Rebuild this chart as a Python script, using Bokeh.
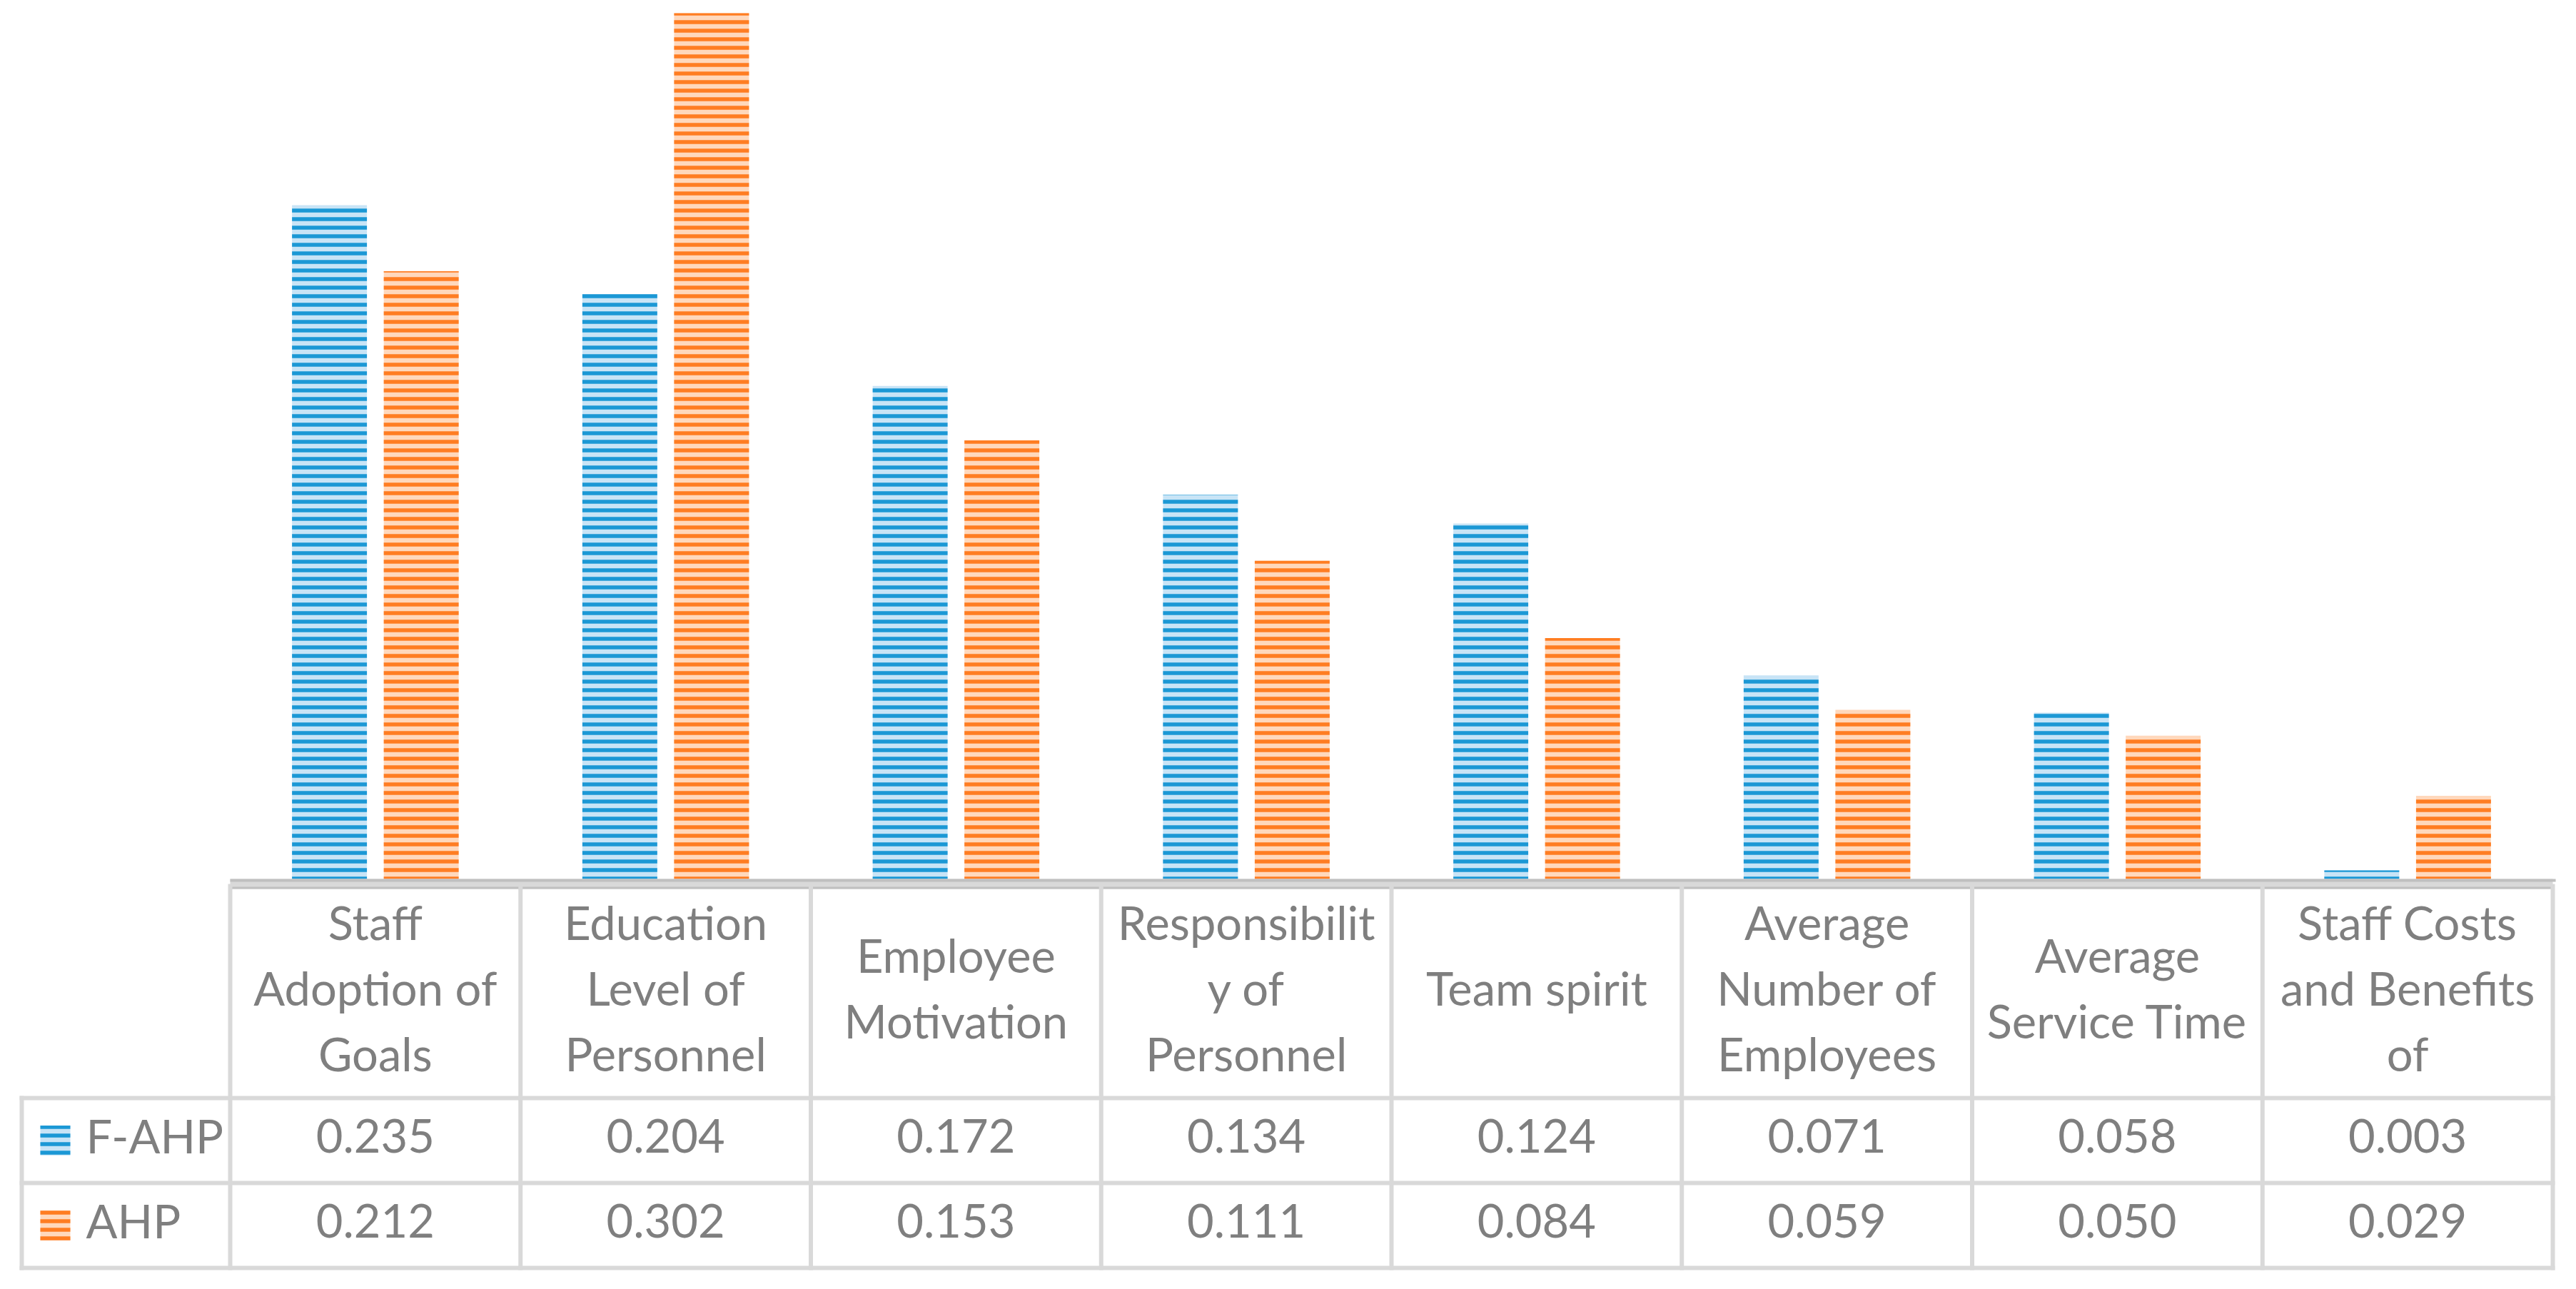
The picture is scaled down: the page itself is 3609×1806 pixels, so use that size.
from bokeh.plotting import figure
from bokeh.models import Range1d
from bokeh.core.properties import value
from bokeh.embed import file_html
from bokeh.resources import INLINE

# ---------------- data ----------------
categories = [
    "Staff Adoption of Goals",
    "Education Level of Personnel",
    "Employee Motivation",
    "Responsibility of Personnel",
    "Team spirit",
    "Average Number of Employees",
    "Average Service Time",
    "Staff Costs and Benefits of Personnel",
]
header_lines = [
    ["Staff", "Adoption of", "Goals"],
    ["Education", "Level of", "Personnel"],
    ["Employee", "Motivation"],
    ["Responsibilit", "y of", "Personnel"],
    ["Team spirit"],
    ["Average", "Number of", "Employees"],
    ["Average", "Service Time"],
    ["Staff Costs", "and Benefits", "of"],
]
series_names = ["F-AHP", "AHP"]
f_ahp = [0.235, 0.204, 0.172, 0.134, 0.124, 0.071, 0.058, 0.003]
ahp = [0.212, 0.302, 0.153, 0.111, 0.084, 0.059, 0.050, 0.029]

# ---------------- layout (pixels in picture coordinates) ----------------
PAGE_W, PAGE_H, M = 3609, 1806, 8
FIG_W, FIG_H = PAGE_W - 2 * M, PAGE_H - 2 * M
ORG = 0               # picture coordinate of the figure's top-left corner
X0 = 322.0            # left edge of category columns
COL_W = (3576.0 - 322.0) / 8
BASE_Y = 1231.0       # y of value zero
TOP_REF_Y = 18.0      # y of the tallest bar (0.302)
PX_PER_UNIT = (BASE_Y - TOP_REF_Y) / max(ahp)
HDR_TOP, HDR_BOT, ROW1_BOT, ROW2_BOT = 1238.0, 1538.0, 1657.0, 1776.0
LEG_LEFT = 30.0
LINE_H = 92.0
TXT_SHIFT = -7.0

BLUE_D, BLUE_L = "#1b98d5", "#c8e4f6"
ORNG_D, ORNG_L = "#ff7d22", "#ffd8bc"
GRID = "#d9d9d9"
AXIS = "#c0c0c0"
TXT = "#7f7f7f"
FONT = value("Lato")
FSIZE = "65px"


def ux(px):
    return (px - X0) / COL_W


y_end = (BASE_Y - ORG) / PX_PER_UNIT
y_start = -((ORG + FIG_H) - BASE_Y) / PX_PER_UNIT

p = figure(
    width=FIG_W, height=FIG_H,
    x_range=Range1d(ux(ORG), ux(ORG + FIG_W)),
    y_range=Range1d(y_start, y_end),
    output_backend="svg", toolbar_location=None,
    x_axis_location=None, y_axis_location=None,
    min_border=0, outline_line_color=None,
)
p.extra_y_ranges = {"tbl": Range1d(start=ORG + FIG_H, end=ORG)}
p.grid.visible = False
p.background_fill_color = "white"
p.border_fill_color = "white"

n = len(categories)
xs = [i + 0.5 for i in range(n)]
OFF, BW = 0.158, 0.258

# ---------------- bars ----------------
p.vbar(x=[x - OFF for x in xs], top=f_ahp, bottom=0, width=BW,
       fill_color=BLUE_L, line_color=None,
       hatch_pattern="horizontal_line", hatch_color=BLUE_D,
       hatch_weight=5.5, hatch_scale=12)
p.vbar(x=[x + OFF for x in xs], top=ahp, bottom=0, width=BW,
       fill_color=ORNG_L, line_color=None,
       hatch_pattern="horizontal_line", hatch_color=ORNG_D,
       hatch_weight=5.5, hatch_scale=12)

# ---------------- axis band / table grid ----------------
p.quad(left=[0], right=[ux(3576)], top=[1231], bottom=[1245],
       fill_color=GRID, line_color=None, y_range_name="tbl")
p.segment(x0=[0, 0], x1=[n + 0.01, n], y0=[1233, 1243.5], y1=[1233, 1243.5],
          line_color=AXIS, line_width=[4, 3], y_range_name="tbl")

hx0, hx1, hy0, hy1 = [], [], [], []
for y in (HDR_BOT, ROW1_BOT, ROW2_BOT):
    hx0.append(ux(LEG_LEFT) - 3 / COL_W)
    hx1.append(n + 3 / COL_W)
    hy0.append(y)
    hy1.append(y)
for k in range(n + 1):
    hx0.append(k)
    hx1.append(k)
    hy0.append(HDR_TOP)
    hy1.append(ROW2_BOT + 3)
hx0.append(ux(LEG_LEFT))
hx1.append(ux(LEG_LEFT))
hy0.append(HDR_BOT - 3)
hy1.append(ROW2_BOT + 3)
p.segment(x0=hx0, x1=hx1, y0=hy0, y1=hy1, line_color=GRID, line_width=6,
          y_range_name="tbl")

# ---------------- header labels and values ----------------
tx, ty, tt = [], [], []
hdr_c = (HDR_TOP + HDR_BOT) / 2 + 2 + TXT_SHIFT
for i, lines in enumerate(header_lines):
    m = len(lines)
    for j, s in enumerate(lines):
        tx.append(xs[i])
        ty.append(hdr_c + (j - (m - 1) / 2) * LINE_H)
        tt.append(s)
row_c = [(HDR_BOT + ROW1_BOT) / 2, (ROW1_BOT + ROW2_BOT) / 2]
for r, vals in enumerate([f_ahp, ahp]):
    for i, v in enumerate(vals):
        tx.append(xs[i])
        ty.append(row_c[r] + TXT_SHIFT)
        tt.append(f"{v:.3f}")
p.text(x=tx, y=ty, text=tt, y_range_name="tbl", text_align="center",
       text_baseline="middle", text_font=FONT, text_font_size=FSIZE,
       text_color=TXT)

# ---------------- legend keys ----------------
KEY = 42.0
p.rect(x=[ux(56 + KEY / 2)] * 2, y=row_c, width=KEY / COL_W, height=KEY,
       fill_color=[BLUE_L, ORNG_L], line_color=None,
       hatch_pattern="horizontal_line", hatch_color=[BLUE_D, ORNG_D],
       hatch_weight=5.5, hatch_scale=12, y_range_name="tbl")
p.text(x=[ux(120)] * 2, y=[c + TXT_SHIFT for c in row_c], text=series_names,
       y_range_name="tbl", text_align="left", text_baseline="middle",
       text_font=FONT, text_font_size=FSIZE, text_color=TXT)

open("out.html", "w").write(file_html(p, INLINE))
